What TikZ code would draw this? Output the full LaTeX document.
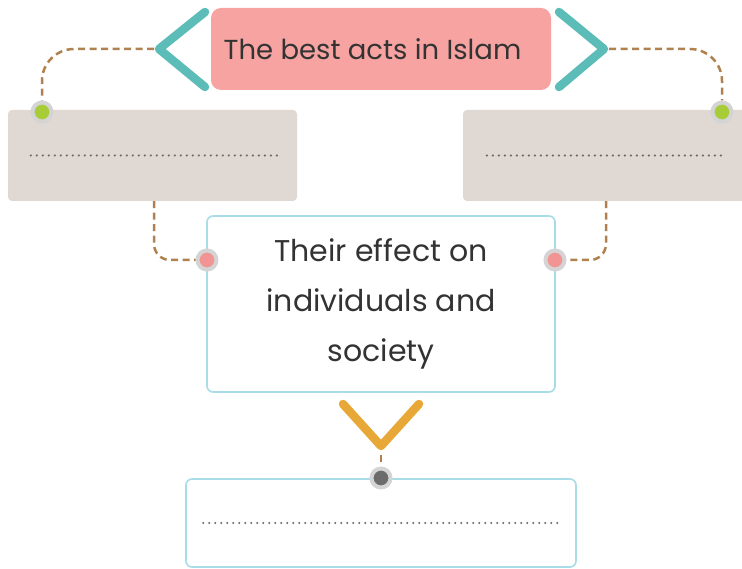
\documentclass[tikz,border=0pt]{standalone}
\usepackage{fontspec}
\setmainfont{Poppins}
\usetikzlibrary{positioning,calc}
\definecolor{titlepink}{HTML}{F6A3A1}
\definecolor{chevteal}{HTML}{5BBCB8}
\definecolor{chevgold}{HTML}{E8A838}
\definecolor{boxgray}{HTML}{E0D8D3}
\definecolor{boxblue}{HTML}{A8DCE6}
\definecolor{linkbrown}{HTML}{B0814F}
\definecolor{ringgray}{HTML}{D4D4D4}
\definecolor{dotgreen}{HTML}{A8CB38}
\definecolor{dotpink}{HTML}{F29494}
\definecolor{dotdark}{HTML}{6B6B6B}
\definecolor{textdark}{HTML}{333333}
\tikzset{
  graybox/.style={rectangle,rounded corners=4pt,fill=boxgray,minimum width=289pt,minimum height=91pt},
  bluebox/.style={rectangle,rounded corners=6pt,draw=boxblue,line width=1.6pt,fill=white,text=textdark,align=center},
  chevron/.style={line width=8.5pt,line cap=round,line join=round},
  link/.style={draw=linkbrown,line width=2.5pt,dash pattern=on 7pt off 4.5pt},
  dotline/.style={draw=dotdark,line width=2.4pt,line cap=round,dash pattern=on 0pt off 6pt},
  pin/.style={circle,draw=ringgray,line width=4pt,inner sep=0pt,minimum size=19pt}
}
\begin{document}
\begin{tikzpicture}[x=1pt,y=-1pt]
\useasboundingbox (0,0) rectangle (742,569);
\node[rectangle,rounded corners=10pt,fill=titlepink,text=textdark,minimum width=340pt,minimum height=82pt,font=\fontsize{27.5}{32}\selectfont] (title) at (381,49) {The best acts in Islam\kern17pt};
\coordinate (ltip) at (159,49);
\coordinate (rtip) at (604,49);
\draw[chevron,chevteal] (205,12) -- (ltip) -- (205,87);
\draw[chevron,chevteal] (559,12) -- (rtip) -- (559,87);

\node[graybox] (leftbox) at (152.5,155.5) {};
\node[graybox] (rightbox) at (607.5,155.5) {};
\draw[dotline] ([xshift=23pt]leftbox.west) -- ([xshift=-20pt]leftbox.east);
\draw[dotline] ([xshift=24pt]rightbox.west) -- ([xshift=-30pt]rightbox.east);

\node[bluebox,minimum width=348pt,minimum height=176pt,font=\fontsize{30}{50}\selectfont] (effect) at (381,304) {Their effect on\\individuals and\\society};
\node[bluebox,minimum width=390pt,minimum height=88pt] (answer) at (381,523) {};
\draw[dotline] ([xshift=18pt]answer.west) -- ([xshift=-18pt]answer.east);

\coordinate (vtip) at (381,446);
\coordinate (vend) at (381,455);
\draw[chevron,chevgold] (343,404) -- (vtip) -- (419,404);

\node[pin,fill=dotgreen] (gpinL) at (42,112) {};
\node[pin,fill=dotgreen] (gpinR) at (722,112) {};
\node[pin,fill=dotpink] (ppinL) at (207,260) {};
\node[pin,fill=dotpink] (ppinR) at (555,260) {};
\node[pin,fill=dotdark] (dpin) at (381,478) {};

\draw[link,rounded corners=32pt] ([xshift=-5pt]ltip) -| (gpinL);
\draw[link,rounded corners=32pt] ([xshift=5pt]rtip) -| (gpinR);
\draw[link,rounded corners=16pt] ([xshift=1.5pt]leftbox.south) |- (ppinL);
\draw[link,rounded corners=16pt] ([xshift=-1.5pt]rightbox.south) |- (ppinR);
\draw[link] (vend) -- (dpin);
\end{tikzpicture}
\end{document}
